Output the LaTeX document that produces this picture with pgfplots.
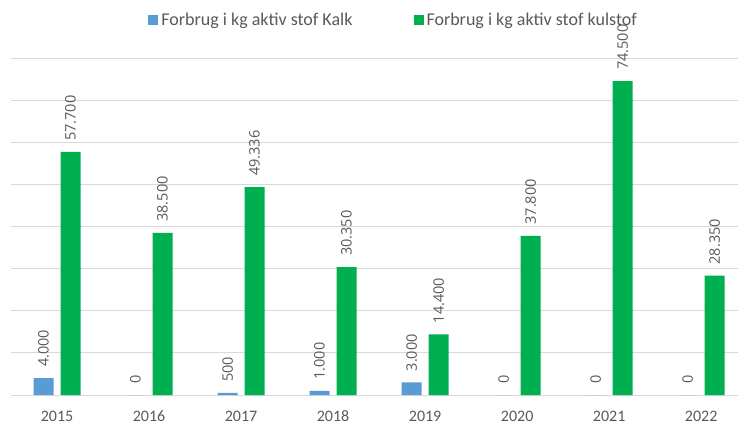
\documentclass[border=0pt]{standalone}
\usepackage{pgfplots}
\pgfplotsset{compat=1.18}
\usepackage{fontspec}
\setmainfont{Carlito}
\newfontfamily\lblfont{Open Sans}
\definecolor{kalk}{HTML}{5B9BD5}
\definecolor{kul}{HTML}{00B050}
\definecolor{txt}{HTML}{595959}
\definecolor{gridc}{HTML}{D9D9D9}
\begin{document}
\begin{tikzpicture}
\begin{axis}[
  at={(0,0)}, anchor=south west,
  scale only axis, width=727bp, height=337bp,
  ybar=7bp, bar width=20bp,
  xmin=-0.5, xmax=7.4, ymin=0, ymax=80000,
  xtick={0,1,2,3,4,5,6,7}, xticklabels={2015,2016,2017,2018,2019,2020,2021,2022},
  ytick={0,10000,...,80000}, yticklabels={}, scaled y ticks=false,
  xmajorgrids=false, ymajorgrids=true, grid style={draw=gridc, line width=1bp},
  axis line style={draw=none}, major tick length=0pt,
  xticklabel style={font=\fontsize{16bp}{18bp}\selectfont, text=txt, anchor=north,
     text height=11bp, text depth=0pt, inner sep=0pt, yshift=-15bp},
  clip=false,
  /pgf/number format/assume math mode=true,
  /pgf/number format/.cd, fixed, 1000 sep={.}, /pgfplots/.cd,
  nodes near coords,
  nodes near coords style={rotate=90, anchor=west, inner xsep=11bp, inner ysep=0pt,
     font=\lblfont\fontsize{14.5bp}{16bp}\selectfont, text=txt},
  legend style={at={(0.527,1.113)}, anchor=center, draw=none, fill=none,
     legend columns=2, font=\fontsize{18bp}{20bp}\selectfont, text=txt,
     /tikz/every even column/.append style={column sep=58bp},
     inner sep=0pt, outer sep=0pt, nodes={inner xsep=3bp}},
  legend image code/.code={\fill[#1] (0bp,-5bp) rectangle (10bp,5bp);},
]
\addplot[fill=kalk, draw=none] coordinates {(0,4000) (1,0) (2,500) (3,1000) (4,3000) (5,0) (6,0) (7,0)};
\addlegendentry{Forbrug i kg aktiv stof Kalk}
\addplot[fill=kul, draw=none] coordinates {(0,57700) (1,38500) (2,49336) (3,30350) (4,14400) (5,37800) (6,74500) (7,28350)};
\addlegendentry{Forbrug i kg aktiv stof kulstof}
\end{axis}
\pgfresetboundingbox
\path (-11bp,-30bp) rectangle (727bp,395bp);
\end{tikzpicture}
\end{document}
